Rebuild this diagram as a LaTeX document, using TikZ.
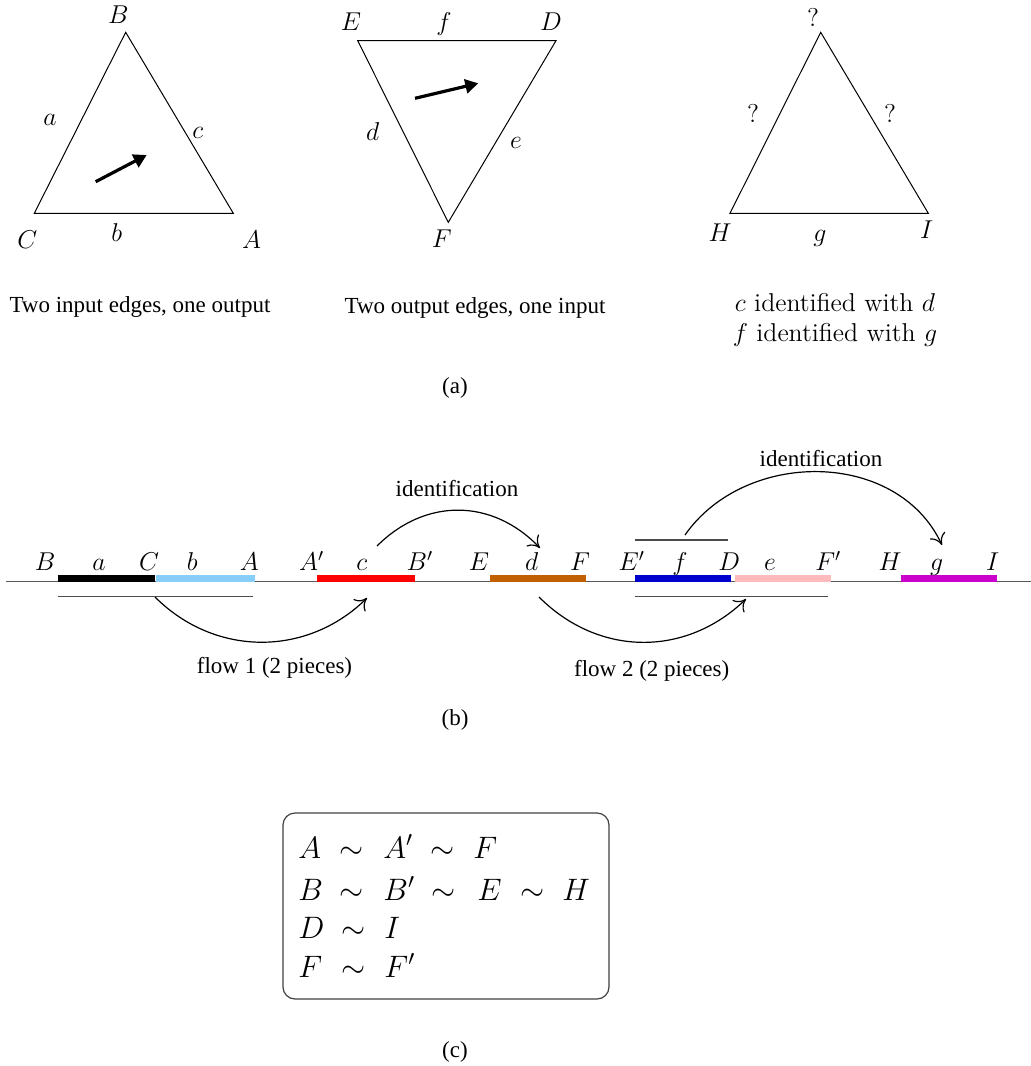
\RequirePackage{fix-cm}
\documentclass[tikz,border=0pt]{standalone}
\usepackage{fontspec}
\newfontfamily\tms{Liberation Serif}
\usetikzlibrary{arrows.meta}
\definecolor{lblue}{RGB}{135,206,250}
\definecolor{brownish}{RGB}{192,96,0}
\definecolor{dblue}{RGB}{0,0,204}
\definecolor{pinkish}{RGB}{255,187,187}
\definecolor{magentish}{RGB}{204,0,204}
\begin{document}
\begin{tikzpicture}[x=0.5pt,y=-0.5pt,
  lbl/.style={font=\fontsize{12.9}{15}\selectfont, inner sep=0pt},
  blbl/.style={font=\fontsize{12.9}{15}\selectfont, inner sep=0pt, anchor=base},
  captxt/.style={font=\tms\fontsize{11.5}{14}\selectfont, inner sep=0pt},
  boxtxt/.style={font=\fontsize{15.5}{18}\selectfont, inner sep=0pt, anchor=base west},
  tri/.style={line width=0.5pt, line join=miter},
  bigarrow/.style={line width=1.6pt, -{Triangle[length=6.5pt,width=7pt]}},
  flowarrow/.style={line width=0.6pt, -{To[length=5.5pt,width=8.5pt]}},
  mainline/.style={line width=0.6pt, black!65},
  thinline/.style={line width=0.6pt, black!70},
  bar/.style={line width=3.5pt}]
\useasboundingbox (0,0) rectangle (1031,1066);

% ---------------- (a) triangle 1
\coordinate (t1B) at (125.7,32.3);
\coordinate (t1C) at (34.3,213.3);
\coordinate (t1A) at (233.3,213.3);
\draw[tri] (t1B) -- (t1A) -- (t1C) -- cycle;
\coordinate (a1s) at (95.7,181.7);
\coordinate (a1e) at (146.7,155);
\draw[bigarrow] (a1s) -- (a1e);
\node[lbl] (lB1) at (118.3,14.5) {$B$};
\node[lbl] (la1) at (50,120) {$a$};
\node[lbl] (lc1) at (197.7,133) {$c$};
\node[lbl] (lC1) at (27.3,240) {$C$};
\node[lbl] (lb1) at (116.7,233) {$b$};
\node[lbl] (lA1) at (251.7,240) {$A$};
\node[captxt] (cap1) at (140,307) {Two input edges, one output};

% ---------------- (a) triangle 2
\coordinate (t2E) at (357.7,40.7);
\coordinate (t2D) at (556,40.7);
\coordinate (t2F) at (448.3,222.3);
\draw[tri] (t2E) -- (t2D) -- (t2F) -- cycle;
\coordinate (a2s) at (415,98.3);
\coordinate (a2e) at (478.3,83.3);
\draw[bigarrow] (a2s) -- (a2e);
\node[lbl] (lE2) at (351,22) {$E$};
\node[lbl] (lf2) at (444,24) {$f$};
\node[lbl] (lD2) at (551,22) {$D$};
\node[lbl] (ld2) at (372.7,131.7) {$d$};
\node[lbl] (le2) at (516,143.3) {$e$};
\node[lbl] (lF2) at (441.7,238.3) {$F$};
\node[captxt] (cap2) at (475,308) {Two output edges, one input};

% ---------------- (a) triangle 3
\coordinate (t3T) at (820.7,32.3);
\coordinate (t3H) at (730,213.3);
\coordinate (t3I) at (928.3,213.3);
\draw[tri] (t3T) -- (t3I) -- (t3H) -- cycle;
\node[lbl] (q1) at (813,17) {?};
\node[lbl] (q2) at (753,113) {?};
\node[lbl] (q3) at (890,113) {?};
\node[lbl] (lH3) at (720,233) {$H$};
\node[lbl] (lg3) at (820,238) {$g$};
\node[lbl] (lI3) at (926.7,230) {$I$};
\node[lbl] (id1) at (835,303) {$c$ identified with $d$};
\node[lbl] (id2) at (835,335) {$f$ identified with $g$};

\node[captxt] (capa) at (455,388) {(a)};

% ---------------- (b)
\coordinate (L0) at (6,581.5);
\coordinate (L1) at (1031,581.5);
\draw[mainline] (L0) -- (L1);
\draw[bar, black]      (57.7,578) -- (155,578);
\draw[bar, lblue]      (155.5,578) -- (255,578);
\draw[bar, red]        (317.3,578) -- (415,578);
\draw[bar, brownish]   (490,578) -- (586,578);
\draw[bar, dblue]      (635,578) -- (731,578);
\draw[bar, pinkish]    (735,578) -- (830.7,578);
\draw[bar, magentish]  (901,578) -- (996.7,578);

\draw[thinline] (57.7,596.7) -- (252.7,596.7);
\draw[thinline] (635,596.7) -- (827.7,596.7);
\draw[thinline] (635,540) -- (727.7,540);

\node[blbl] (bB) at (45,570.5) {$B$};
\node[blbl] (ba) at (99,570.5) {$a$};
\node[blbl] (bC) at (149,570.5) {$C$};
\node[blbl] (bb) at (192.3,570.5) {$b$};
\node[blbl] (bA) at (249.3,570.5) {$A$};
\node[blbl] (bAp) at (311.7,570.5) {$A'$};
\node[blbl] (bc) at (361.7,570.5) {$c$};
\node[blbl] (bBp) at (420,570.5) {$B'$};
\node[blbl] (bE) at (479,570.5) {$E$};
\node[blbl] (bd) at (531.7,570.5) {$d$};
\node[blbl] (bF) at (580,570.5) {$F$};
\node[blbl] (bEp) at (631.7,570.5) {$E'$};
\node[blbl] (bf) at (680,570.5) {$f$};
\node[blbl] (bD) at (729.3,570.5) {$D$};
\node[blbl] (be) at (770,570.5) {$e$};
\node[blbl] (bFp) at (828.3,570.5) {$F'$};
\node[blbl] (bH) at (890,570.5) {$H$};
\node[blbl] (bg) at (936.7,570.5) {$g$};
\node[blbl] (bI) at (992.7,570.5) {$I$};

% flow 1
\coordinate (f1s) at (155,597);
\coordinate (f1a) at (215,657);
\coordinate (f1b) at (307,657);
\coordinate (f1e) at (367,598);
\draw[flowarrow] (f1s) .. controls (f1a) and (f1b) .. (f1e);
\node[captxt] (fl1) at (274.5,668) {flow 1 (2 pieces)};

% identification 1
\coordinate (i1s) at (377,546);
\coordinate (i1a) at (425,498);
\coordinate (i1b) at (492,498);
\coordinate (i1e) at (540,548);
\draw[flowarrow] (i1s) .. controls (i1a) and (i1b) .. (i1e);
\node[captxt] (idl1) at (457,489) {identification};

% flow 2
\coordinate (f2s) at (539,597);
\coordinate (f2a) at (599,657);
\coordinate (f2b) at (686,657);
\coordinate (f2e) at (746,599);
\draw[flowarrow] (f2s) .. controls (f2a) and (f2b) .. (f2e);
\node[captxt] (fl2) at (651.7,671) {flow 2 (2 pieces)};

% identification 2
\coordinate (i2s) at (685,535);
\coordinate (i2a) at (745,449);
\coordinate (i2b) at (897,449);
\coordinate (i2e) at (942,545);
\draw[flowarrow] (i2s) .. controls (i2a) and (i2b) .. (i2e);
\node[captxt] (idl2) at (821,459) {identification};

\node[captxt] (capb) at (455,720) {(b)};

% ---------------- (c)
\draw[line width=0.6pt, black!75, rounded corners=6pt] (283,813) rectangle (609,999);
\node[boxtxt] (r1c1) at (298,858) {$A$};
\node[boxtxt] (r1c2) at (339,858) {$\sim$};
\node[boxtxt] (r1c3) at (383,858) {$A'$};
\node[boxtxt] (r1c4) at (430,858) {$\sim$};
\node[boxtxt] (r1c5) at (473,858) {$F$};
\node[boxtxt] (r2c1) at (298,900) {$B$};
\node[boxtxt] (r2c2) at (339,900) {$\sim$};
\node[boxtxt] (r2c3) at (383,900) {$B'$};
\node[boxtxt] (r2c4) at (431,900) {$\sim$};
\node[boxtxt] (r2c5) at (477,900) {$E$};
\node[boxtxt] (r2c6) at (520,900) {$\sim$};
\node[boxtxt] (r2c7) at (562,900) {$H$};
\node[boxtxt] (r3c1) at (298,938) {$D$};
\node[boxtxt] (r3c2) at (341,938) {$\sim$};
\node[boxtxt] (r3c3) at (384,938) {$I$};
\node[boxtxt] (r4c1) at (298,977) {$F$};
\node[boxtxt] (r4c2) at (341,977) {$\sim$};
\node[boxtxt] (r4c3) at (384,977) {$F'$};

\node[captxt] (capc) at (455,1052) {(c)};
\end{tikzpicture}
\end{document}
